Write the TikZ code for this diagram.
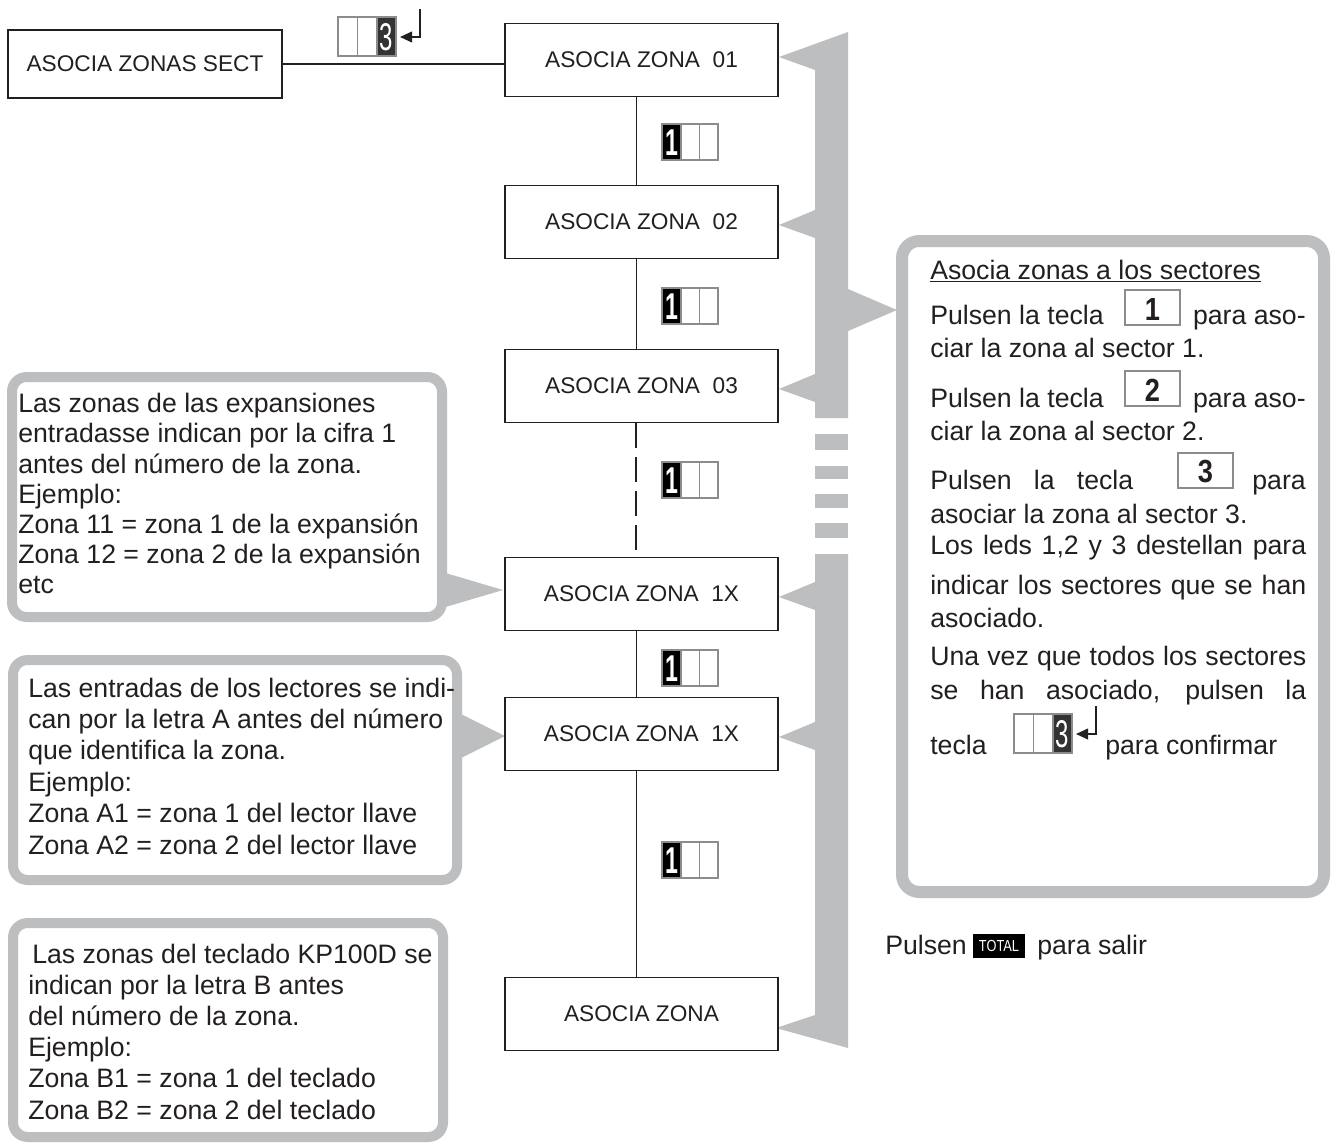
\documentclass[tikz,border=0pt]{standalone}
\usepackage{fontspec}
\setmainfont{Liberation Sans}
\usetikzlibrary{arrows.meta}
\definecolor{bargray}{HTML}{BCBEC0}
\definecolor{keygray}{HTML}{8C8C8C}
\definecolor{ink}{HTML}{231F20}
\tikzset{
  txt/.style={anchor=base west, inner sep=0, text=ink, font=\fontsize{20}{22.65}\selectfont},
  zbox/.style={draw=ink, line width=1.2pt, fill=white, minimum width=204.75pt, minimum height=54.75pt, inner sep=0, text=ink, font=\fontsize{17}{20}\selectfont},
  callL/.style={draw=bargray, line width=7.5pt, rounded corners=11pt, fill=white},
  callR/.style={draw=bargray, line width=9pt, rounded corners=13pt, fill=white},
  conn/.style={line width=1pt, draw=ink},
  dconn/.style={line width=1.8pt, draw=ink, dash pattern=on 18.75pt off 6.75pt},
  barfill/.style={fill=bargray},
  keyone/.pic={
    \fill[black] (0,0) rectangle (19,36);
    \draw[keygray, line width=0.8pt] (0,0) rectangle (56,36) (19,0) -- (19,36) (37.5,0) -- (37.5,36);
    \node[white, inner sep=0] (-d) at (9.5,18.5) {\fontsize{28}{28}\selectfont\bfseries\scalebox{0.62}[1]{1}};
  },
  keythree/.pic={
    \fill[white] (0,0) rectangle (58,39);
    \fill[black!80] (39,0) rectangle (58,39);
    \draw[keygray, line width=0.8pt] (0,0) rectangle (58,39) (19.5,0) -- (19.5,39) (39,0) -- (39,39);
    \node[white, inner sep=0] (-d) at (48.5,20) {\fontsize{29}{29}\selectfont\scalebox{0.62}[1]{3}};
    \draw[ink, line width=1.4pt, -{Triangle[length=9pt,width=8pt]}] (82,-8) -- (82,20) -- (62,20);
  },
  keybold/.pic={
    \draw[keygray, line width=1pt, fill=white] (0,0) rectangle (55,35);
    \node[inner sep=0, text=ink] (-d) at (27.5,19) {\fontsize{24}{24}\selectfont\bfseries\scalebox{0.85}[1]{#1}};
  }
}
\begin{document}
\begin{tikzpicture}[x=0.75pt,y=-0.75pt]
\useasboundingbox[fill=white] (0,0) rectangle (1336,1146);

% grey bar
\fill[barfill] (779,57) -- (848,32) -- (848,418) -- (815,418) -- (815,70) -- cycle;
\fill[barfill] (815,434) rectangle (848,450);
\fill[barfill] (815,466) rectangle (848,479);
\fill[barfill] (815,494) rectangle (848,508);
\fill[barfill] (815,523) rectangle (848,538);
\fill[barfill] (815,554) -- (848,554) -- (848,1048) -- (776,1028) -- (815,1015) -- cycle;
\foreach \c in {222,386,594,734}{
  \fill[barfill] (815,\c-12) -- (779,\c+3) -- (815,\c+16) -- cycle;
}
\fill[barfill] (848,289) -- (897,310) -- (848,331) -- cycle;

% callouts
\draw[callR] (902,241) rectangle (1324,892);
\draw[callL] (12,377) rectangle (442,617);
\fill[barfill] (442,572) -- (503,590) -- (442,608) -- cycle;
\draw[callL] (13,660) rectangle (457,880);
\fill[barfill] (457,712) -- (505,736) -- (457,760) -- cycle;
\draw[callL] (13,923) rectangle (443,1137);

% flow boxes
\node[zbox, minimum width=205.5pt, minimum height=51pt] (sect) at (145,64) {ASOCIA ZONAS SECT};
\node[zbox] (z1) at (641.5,60) {ASOCIA ZONA\ \ 01};
\node[zbox] (z2) at (641.5,222) {ASOCIA ZONA\ \ 02};
\node[zbox] (z3) at (641.5,386) {ASOCIA ZONA\ \ 03};
\node[zbox] (z4) at (641.5,594) {ASOCIA ZONA\ \ 1X};
\node[zbox] (z5) at (641.5,734) {ASOCIA ZONA\ \ 1X};
\node[zbox] (z6) at (641.5,1014) {ASOCIA ZONA};

\draw[conn] (sect.east) -- (sect.east -| z1.west);
\draw[conn] ([xshift=-4pt]z1.south) -- ([xshift=-4pt]z2.north);
\draw[conn] ([xshift=-4pt]z2.south) -- ([xshift=-4pt]z3.north);
\draw[dconn] ([xshift=-4pt]z3.south) -- ([xshift=-4pt]z4.north);
\draw[conn] ([xshift=-4pt]z4.south) -- ([xshift=-4pt]z5.north);
\draw[conn] ([xshift=-4pt]z5.south) -- ([xshift=-4pt]z6.north);

% keys
\pic (kt) at (338,17) {keythree};
\pic (k1) at (662,124) {keyone};
\pic (k2) at (662,288) {keyone};
\pic (k3) at (662,462) {keyone};
\pic (k4) at (662,650) {keyone};
\pic (k5) at (662,842) {keyone};

% left callout texts
\node[txt] (t1) at (18,412.6) {\begin{tabular}[t]{@{}l@{}}Las zonas de las expansiones\\entradasse indican por la cifra 1\\antes del número de la zona.\\Ejemplo:\\Zona 11 = zona 1 de la expansión\\Zona 12 = zona 2 de la expansión\\etc\end{tabular}};
\node[txt, font=\fontsize{20}{23.6}\selectfont] (t2) at (28,697) {\begin{tabular}[t]{@{}l@{}}Las entradas de los lectores se indi-\\can por la letra A antes del número\\que identifica la zona.\\Ejemplo:\\Zona A1 = zona 1 del lector llave\\Zona A2 = zona 2 del lector llave\end{tabular}};
\node[txt, font=\fontsize{20}{23.4}\selectfont] (t3) at (28,963) {\begin{tabular}[t]{@{}l@{}}\hspace{3pt}Las zonas del teclado KP100D se\\indican por la letra B antes\\del número de la zona.\\Ejemplo:\\Zona B1 = zona 1 del teclado\\Zona B2 = zona 2 del teclado\end{tabular}};

% right callout text
\node[txt] (r1) at (930,279) {\underline{Asocia zonas a los sectores}};
\node[txt] (r2a) at (930,324) {Pulsen la tecla};
\pic (kb1) at (1125,290) {keybold=1};
\node[txt, anchor=base east] (r2b) at (1306,324) {para aso-};
\node[txt] (r3) at (930,357) {ciar la zona al sector 1.};
\node[txt] (r4a) at (930,407) {Pulsen la tecla};
\pic (kb2) at (1125,371) {keybold=2};
\node[txt, anchor=base east] (r4b) at (1306,407) {para aso-};
\node[txt] (r5) at (930,440) {ciar la zona al sector 2.};
\node[txt] (r6a) at (930,489) {\makebox[152.25pt][s]{Pulsen la tecla}};
\pic (kb3) at (1178,453) {keybold=3};
\node[txt, anchor=base east] (r6b) at (1306,489) {para};
\node[txt] (r7) at (930,523) {asociar la zona al sector 3.};
\node[txt] (r8) at (930,554) {\makebox[282pt][s]{Los leds 1,2 y 3 destellan para}};
\node[txt] (r9) at (930,594) {\makebox[282pt][s]{indicar los sectores que se han}};
\node[txt] (r10) at (930,627) {asociado.};
\node[txt] (r11) at (930,665) {\makebox[282pt][s]{Una vez que todos los sectores}};
\node[txt] (r12) at (930,699) {\makebox[282pt][s]{se han asociado, pulsen la}};
\node[txt] (r13a) at (930,754) {tecla};
\pic (kr) at (1014,714) {keythree};
\node[txt] (r13b) at (1105,754) {para confirmar};

% exit
\node[txt] (p1) at (885,954) {Pulsen};
\node[fill=black, text=white, inner sep=0, minimum width=39pt, minimum height=18pt] (tot) at (999,946) {\fontsize{12}{12}\selectfont\scalebox{0.8}[1]{TOTAL}};
\node[txt] (p2) at (1037,954) {para salir};
\end{tikzpicture}
\end{document}
